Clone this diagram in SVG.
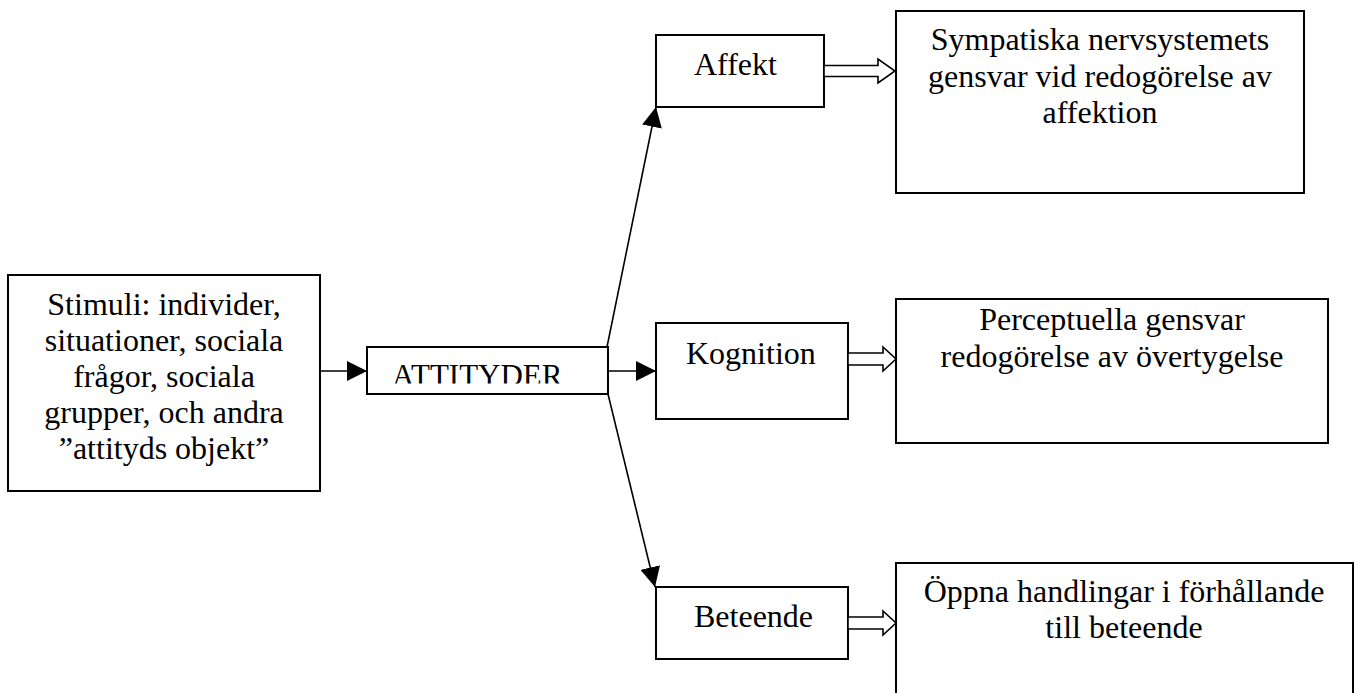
<svg xmlns="http://www.w3.org/2000/svg" width="1360" height="693" viewBox="0 0 1360 693">
<style>
.box{fill:#fff;stroke:#000;stroke-width:2}
.t{font-family:"Liberation Serif","Times New Roman",serif;font-size:32px;fill:#000}
.c{text-anchor:middle}
.ln{stroke:#000;stroke-width:1.6;fill:none}
.blk{fill:#fff;stroke:#000;stroke-width:1.6;stroke-linejoin:miter}
</style>
<defs>
<marker id="ah" markerUnits="userSpaceOnUse" markerWidth="20" markerHeight="20" refX="20" refY="10" orient="auto">
<path d="M0,0 L20,10 L0,20 Z" fill="#000"/>
</marker>
<clipPath id="attclip"><rect x="367" y="347" width="241" height="36.5"/></clipPath>
</defs>
<rect width="1360" height="693" fill="#fff"/>

<g id="stimuli">
<rect class="box" x="8" y="275" width="312" height="216"/>
<text class="t c" x="164" y="315">Stimuli: individer,</text>
<text class="t c" x="164" y="351">situationer, sociala</text>
<text class="t c" x="164" y="387">frågor, sociala</text>
<text class="t c" x="164" y="423">grupper, och andra</text>
<text class="t c" x="164" y="459">”attityds objekt”</text>
</g>

<g id="attityder">
<rect class="box" x="367" y="347" width="241" height="47"/>
<text class="t" x="392" y="386" style="font-size:31px" clip-path="url(#attclip)">ATTITYDER</text>
</g>

<g id="affekt">
<rect class="box" x="656" y="35" width="168" height="72"/>
<text class="t" x="694" y="75">Affekt</text>
</g>

<g id="kognition">
<rect class="box" x="656" y="323" width="192" height="96"/>
<text class="t" x="686" y="364">Kognition</text>
</g>

<g id="beteende">
<rect class="box" x="656" y="587" width="192" height="72"/>
<text class="t" x="694" y="627">Beteende</text>
</g>

<g id="sympatiska">
<rect class="box" x="896" y="11" width="408" height="182"/>
<text class="t c" x="1100" y="50">Sympatiska nervsystemets</text>
<text class="t c" x="1100" y="87">gensvar vid redogörelse av</text>
<text class="t c" x="1100" y="123">affektion</text>
</g>

<g id="perceptuella">
<rect class="box" x="896" y="299" width="432" height="144"/>
<text class="t c" x="1112" y="330">Perceptuella gensvar</text>
<text class="t c" x="1112" y="367">redogörelse av övertygelse</text>
</g>

<g id="oppna">
<rect class="box" x="896" y="563" width="457" height="140"/>
<text class="t c" x="1124" y="602">Öppna handlingar i förhållande</text>
<text class="t c" x="1124" y="638">till beteende</text>
</g>

<g id="connectors">
<line class="ln" x1="320" y1="371" x2="367" y2="371" marker-end="url(#ah)"/>
<line class="ln" x1="608" y1="371" x2="656" y2="371" marker-end="url(#ah)"/>
<line class="ln" x1="607" y1="347" x2="656" y2="107" marker-end="url(#ah)"/>
<line class="ln" x1="608" y1="394" x2="655" y2="587" marker-end="url(#ah)"/>
<path class="blk" d="M824,65.5 L878,65.5 L878,59 L895,71 L878,83 L878,76.5 L824,76.5 Z"/>
<path class="blk" d="M848,353 L883,353 L883,347 L896,359 L883,371 L883,365 L848,365 Z"/>
<path class="blk" d="M848,617 L883,617 L883,611 L896,623 L883,635 L883,629 L848,629 Z"/>
</g>
</svg>
